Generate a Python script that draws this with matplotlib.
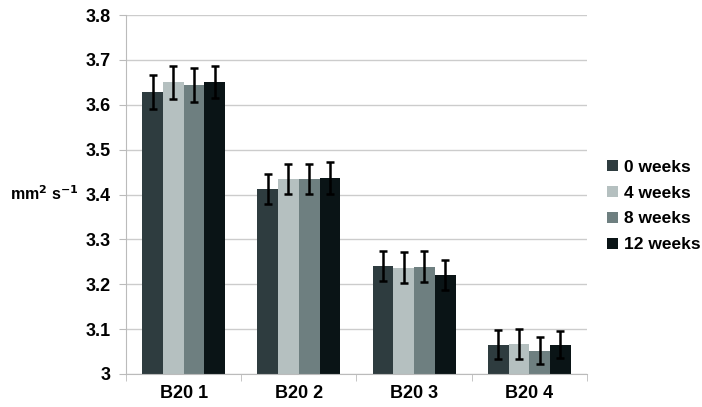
import matplotlib.pyplot as plt
import numpy as np

plt.rcParams['font.family'] = ['Liberation Sans', 'DejaVu Sans']
plt.rcParams['font.weight'] = 'bold'

groups = ['B20 1', 'B20 2', 'B20 3', 'B20 4']
series = ['0 weeks', '4 weeks', '8 weeks', '12 weeks']
colors = ['#2e3c3f', '#b5c0c0', '#6e7f80', '#0a1416']

w0 = [3.628, 3.412, 3.241, 3.065]
w4 = [3.650, 3.435, 3.237, 3.067]
w8 = [3.644, 3.435, 3.239, 3.052]
w12 = [3.651, 3.437, 3.221, 3.065]
err0 = [0.038, 0.034, 0.034, 0.032]
err4 = [0.037, 0.034, 0.034, 0.033]
err8 = [0.038, 0.034, 0.034, 0.030]
err12 = [0.036, 0.035, 0.033, 0.030]

vals = [w0, w4, w8, w12]
errs = [err0, err4, err8, err12]

fig = plt.figure(figsize=(7.02, 4.07), dpi=100)
ax = fig.add_axes([0.1795, 0.0811, 0.6565, 0.8820])

x = np.arange(len(groups))
bw = 0.18
for i in range(4):
    pos = x + (i - 1.5) * bw
    ax.bar(pos, vals[i], bw, color=colors[i], label=series[i], zorder=2)
    ax.errorbar(pos, vals[i], yerr=errs[i], fmt='none', ecolor='black',
                elinewidth=1.8, capsize=3, capthick=1.8, zorder=3)

ax.set_ylim(3, 3.8)
ax.set_xlim(-0.5, 3.5)
ax.set_yticks(np.arange(3, 3.81, 0.1))
ax.set_yticklabels(['3', '3.1', '3.2', '3.3', '3.4', '3.5', '3.6', '3.7', '3.8'])
ax.set_xticks(x)
ax.set_xticklabels(groups)
ax.set_xticks(np.arange(-0.5, 3.6, 1), minor=True)
ax.tick_params(axis='x', which='major', length=0, labelsize=13, pad=8)
ax.tick_params(axis='x', which='minor', length=5, color='#bbbbbb')
ax.tick_params(axis='y', length=5, color='#bbbbbb', labelsize=13, pad=6)
ax.grid(axis='y', color='#cccccc', linewidth=1, zorder=0)
for s in ['top', 'right']:
    ax.spines[s].set_visible(False)
ax.spines['left'].set_color('#bbbbbb')
ax.spines['bottom'].set_color('#bbbbbb')

fig.text(0.014, 1 - 194 / 407, 'mm$^{\\mathbf{2}}$ s$^{\\mathbf{-1}}$', fontsize=11.5,
         fontweight='bold', va='center', ha='left')

ax.legend(loc='center left', bbox_to_anchor=(1.01, 0.468), frameon=False,
          fontsize=12.5, handlelength=0.6, handleheight=0.6, handletextpad=0.35,
          labelspacing=0.62)

fig.savefig('out.png', dpi=100)
